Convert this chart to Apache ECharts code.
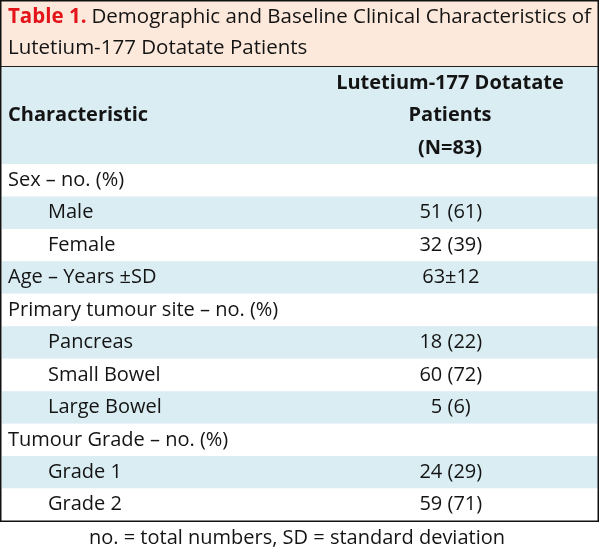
<!DOCTYPE html>
<html lang="en">
<head>
    <meta charset="UTF-8">
    <title>Table 1</title>
    <style>
      * { padding: 0; margin: 0; }
      body { background: #fff; }
    </style>
</head>
<body>
    <div id="main" style="width: 600px;height:559px;"></div>
    <script src="https://cdn.jsdelivr.net/npm/echarts@6/dist/echarts.min.js"></script>
    <script>
    // table rows
    var characteristics = ['Sex – no. (%)', 'Male', 'Female', 'Age – Years ±SD', 'Primary tumour site – no. (%)',
        'Pancreas', 'Small Bowel', 'Large Bowel', 'Tumour Grade – no. (%)', 'Grade 1', 'Grade 2'];
    var indented = [0, 1, 1, 0, 0, 1, 1, 1, 0, 1, 1];
    var counts = [null, 51, 32, null, null, 18, 60, 5, null, 24, 59];
    var percents = [null, 61, 39, null, null, 22, 72, 6, null, 29, 71];
    var ageMean = 63, ageSd = 12;
    var ageRow = 3;

    var headerCol1 = 'Characteristic';
    var headerCol2 = ['Lutetium-177 Dotatate', 'Patients', '(N=83)'];
    var footnote = 'no. = total numbers, SD = standard deviation';

    var FONT = '"Open Sans", "Noto Sans", sans-serif';
    var BLUE = '#daedf3';
    var PEACH = '#fce9db';
    var TEXT = '#141414';

    var cellText = characteristics.map(function (c, i) {
        if (i === ageRow) return ageMean + '±' + ageSd;
        if (counts[i] == null) return '';
        return counts[i] + ' (' + percents[i] + ')';
    });

    var option = {
        animation: false,
        title: {
            left: 8,
            top: 2,
            padding: 0,
            text: '{red|Table 1.} {n|Demographic and Baseline Clinical Characteristics of}\n{n|Lutetium-177 Dotatate Patients}',
            textStyle: {
                fontWeight: 'normal',
                rich: {
                    red: { color: '#e3151b', fontWeight: 'bold', fontSize: 20.5, fontFamily: FONT, lineHeight: 31 },
                    n: { color: TEXT, fontWeight: 'normal', fontSize: 20.5, fontFamily: FONT, lineHeight: 31 }
                }
            }
        },
        graphic: [
            { type: 'rect', z: -10, shape: { x: 1, y: 1, width: 597, height: 65 }, style: { fill: PEACH } },
            { type: 'rect', z: -10, shape: { x: 2, y: 67, width: 596, height: 97 }, style: { fill: BLUE } },
            { type: 'line', z: 10, shape: { x1: 1, y1: 66.5, x2: 598, y2: 66.5 }, style: { stroke: '#222', lineWidth: 1.2 } },
            { type: 'rect', z: 10, shape: { x: 0.75, y: 0.75, width: 597.5, height: 520.5 }, style: { fill: null, stroke: '#111', lineWidth: 1.5 } },
            { type: 'text', style: { x: 8, y: 115, text: headerCol1, fill: TEXT, font: 'bold 20px ' + FONT, textVerticalAlign: 'middle' } },
            { type: 'text', style: { x: 450, y: 83, text: headerCol2[0], fill: TEXT, font: 'bold 20px ' + FONT, textAlign: 'center', textVerticalAlign: 'middle' } },
            { type: 'text', style: { x: 450, y: 115, text: headerCol2[1], fill: TEXT, font: 'bold 20px ' + FONT, textAlign: 'center', textVerticalAlign: 'middle' } },
            { type: 'text', style: { x: 450, y: 148, text: headerCol2[2], fill: TEXT, font: 'bold 20px ' + FONT, textAlign: 'center', textVerticalAlign: 'middle' } },
            { type: 'text', style: { x: 297, y: 538, text: footnote, fill: TEXT, font: '20px ' + FONT, textAlign: 'center', textVerticalAlign: 'middle' } }
        ],
        grid: { left: 2, right: 2, top: 164, bottom: 38 },
        xAxis: { type: 'value', min: 0, max: 1, show: false },
        yAxis: { type: 'category', data: characteristics, inverse: true, show: false },
        series: [{
            type: 'custom',
            silent: true,
            data: characteristics.map(function (c, i) { return [0, i]; }),
            renderItem: function (params, api) {
                var i = api.value(1);
                var left = api.coord([0, i]);
                var right = api.coord([1, i]);
                var mid = api.coord([0.753, i]);
                var h = api.size([0, 1])[1];
                return {
                    type: 'group',
                    children: [
                        {
                            type: 'rect',
                            shape: { x: left[0], y: left[1] - h / 2, width: right[0] - left[0], height: h },
                            style: { fill: i % 2 === 1 ? BLUE : '#ffffff' }
                        },
                        {
                            type: 'text',
                            style: {
                                x: indented[i] ? 48 : 8, y: left[1],
                                text: characteristics[i], fill: TEXT, font: '20px ' + FONT,
                                textVerticalAlign: 'middle'
                            }
                        },
                        {
                            type: 'text',
                            style: {
                                x: mid[0], y: left[1],
                                text: cellText[i], fill: TEXT, font: '20px ' + FONT,
                                textAlign: 'center', textVerticalAlign: 'middle'
                            }
                        }
                    ]
                };
            }
        }]
    };

    var myChart = echarts.init(document.getElementById('main'));
    myChart.setOption(option);
    </script>
</body>
</html>
